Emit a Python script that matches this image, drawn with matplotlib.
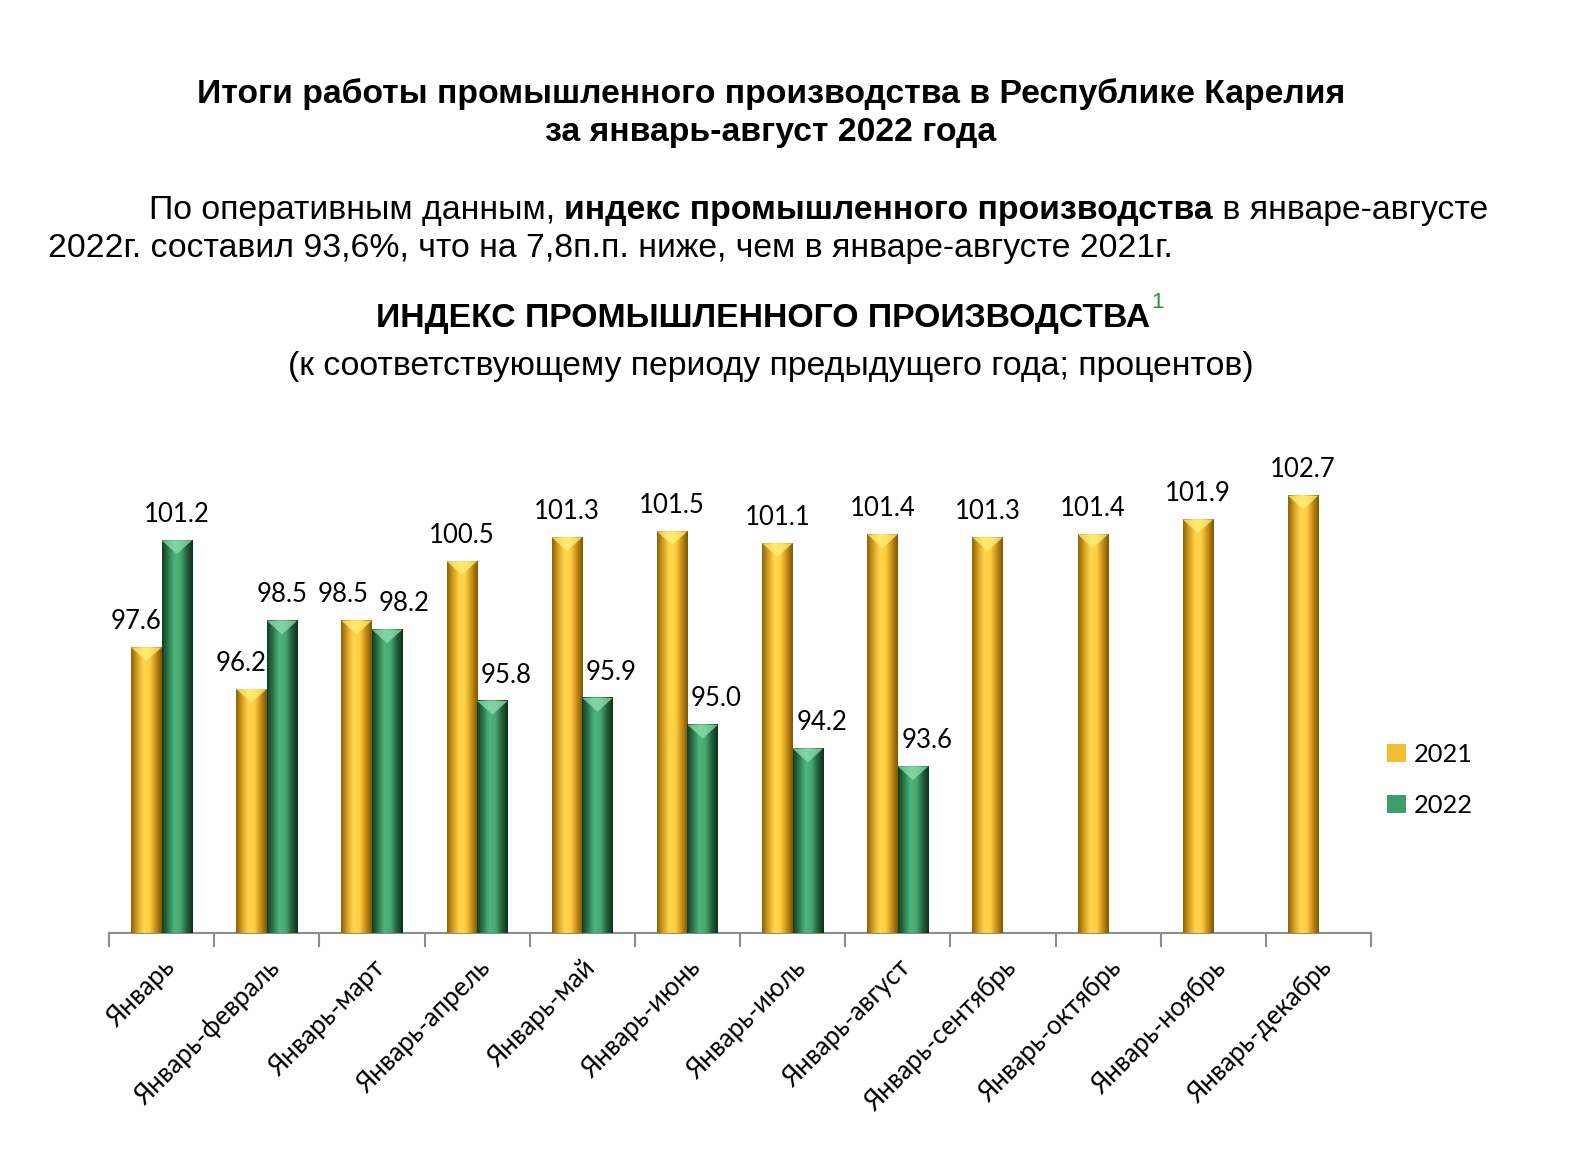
import numpy as np
import matplotlib.pyplot as plt
from matplotlib.colors import LinearSegmentedColormap
from matplotlib.patches import Polygon, Patch

periods = ['Январь', 'Январь-февраль', 'Январь-март', 'Январь-апрель', 'Январь-май',
           'Январь-июнь', 'Январь-июль', 'Январь-август', 'Январь-сентябрь',
           'Январь-октябрь', 'Январь-ноябрь', 'Январь-декабрь']
idx_2021 = [97.6, 96.2, 98.5, 100.5, 101.3, 101.5, 101.1, 101.4, 101.3, 101.4, 101.9, 102.7]
idx_2022 = [101.2, 98.5, 98.2, 95.8, 95.9, 95.0, 94.2, 93.6]
years = ['2021', '2022']

W, H = 1592, 1168
fig = plt.figure(figsize=(W / 100, H / 100), dpi=100)
fig.patch.set_facecolor('white')
rend = fig.canvas.get_renderer()

TXT = 'Liberation Sans'
LBL = 'Lato'
FS = 24.3


def fx(x):
    return x / W


def fy(y):
    return 1 - y / H


# шапка
fig.text(fx(771), fy(94), 'Итоги работы промышленного производства в Республике Карелия',
         ha='center', va='center', fontsize=FS, fontweight='bold', family=TXT)
fig.text(fx(771), fy(132), 'за январь-август 2022 года',
         ha='center', va='center', fontsize=FS, fontweight='bold', family=TXT)

# абзац со смешанным начертанием
x = 149
for part, wt in [('По оперативным данным, ', 'normal'),
                 ('индекс промышленного производства', 'bold'),
                 (' в январе-августе', 'normal')]:
    t = fig.text(fx(x), fy(210), part.replace(' ', '\u00a0'), ha='left', va='center',
                 fontsize=FS, fontweight=wt, family=TXT)
    x += t.get_window_extent(rend).width
fig.text(fx(48), fy(248), '2022г. составил 93,6%, что на 7,8п.п. ниже, чем в январе-августе 2021г.',
         ha='left', va='center', fontsize=FS, family=TXT)

# заголовок графика
t = fig.text(fx(763), fy(318), 'ИНДЕКС ПРОМЫШЛЕННОГО ПРОИЗВОДСТВА',
             ha='center', va='center', fontsize=FS, fontweight='bold', family=TXT)
bb = t.get_window_extent(rend)
fig.text(bb.x1 / W + 0.001, fy(302), '1', ha='left', va='center', fontsize=16,
         color='#2e8b3a', family=TXT)
fig.text(fx(771), fy(366), '(к соответствующему периоду предыдущего года; процентов)',
         ha='center', va='center', fontsize=FS, family=TXT)

# график
ax = fig.add_axes([109 / W, 1 - 933 / H, 1262 / W, 476 / H])
ax.set_xlim(-0.5, len(periods) - 0.5)
ax.set_ylim(88, 104)

xs = np.arange(len(periods))
w = 0.29
styles = {
    '2021': dict(base='#f2bd33', grad=['#8a6508', '#d9a021', '#ffd54d', '#ffcf40', '#c8901a', '#7a5806'],
                 top='#fff07a'),
    '2022': dict(base='#3f9e66', grad=['#143d24', '#2d7a4c', '#4fb57c', '#47a872', '#25623d', '#0f3019'],
                 top='#8fe0b0'),
}

b1 = ax.bar(xs - w / 2, np.array(idx_2021) - 88, w, bottom=88, color=styles['2021']['base'], zorder=2)
b2 = ax.bar(xs[:len(idx_2022)] + w / 2, np.array(idx_2022) - 88, w, bottom=88,
            color=styles['2022']['base'], zorder=2)

fig.canvas.draw()
ppx = ax.transData.transform((1, 0))[0] - ax.transData.transform((0, 0))[0]
ppy = ax.transData.transform((0, 1))[1] - ax.transData.transform((0, 0))[1]

for bars, yr in [(b1, '2021'), (b2, '2022')]:
    st = styles[yr]
    cmap = LinearSegmentedColormap.from_list(yr, st['grad'])
    grad = cmap(np.linspace(0, 1, 64))[None, :, :]
    for r in bars:
        x0, x1 = r.get_x(), r.get_x() + r.get_width()
        top = r.get_y() + r.get_height()
        ax.imshow(grad, extent=[x0, x1, 88, top], aspect='auto', zorder=3, interpolation='bilinear')
        d = (r.get_width() / 2) * ppx / ppy * 0.9
        ax.add_patch(Polygon([(x0, top), (x1, top), ((x0 + x1) / 2, top - d)],
                             closed=True, facecolor=st['top'], edgecolor='none', alpha=0.75, zorder=4))
ax.set_xlim(-0.5, len(periods) - 0.5)
ax.set_ylim(88, 104)

# подписи значений
for i, v in enumerate(idx_2021):
    dx = 0
    if i < len(idx_2022):
        if abs(v - idx_2022[i]) < 1:
            dx = -0.13
        elif v < idx_2022[i]:
            dx = -0.1
    ax.text(i - w / 2 + dx, v + 0.45, f'{v:.1f}', ha='center', va='bottom', fontsize=18.5, family=LBL, zorder=5)
for i, v in enumerate(idx_2022):
    dx = 0
    if abs(v - idx_2021[i]) < 1:
        dx = 0.16
    elif v < idx_2021[i]:
        dx = 0.13
    ax.text(i + w / 2 + dx, v + 0.45, f'{v:.1f}', ha='center', va='bottom', fontsize=18.5, family=LBL, zorder=5)

for s in ['top', 'right', 'left']:
    ax.spines[s].set_visible(False)
ax.spines['bottom'].set_color('#8c8c8c')
ax.spines['bottom'].set_linewidth(1.5)
ax.set_yticks([])
ax.set_xticks(xs)
ax.set_xticklabels(periods, rotation=45, ha='right', rotation_mode='anchor', fontsize=18.5, family=LBL)
ax.set_xticks(np.arange(-0.5, len(periods)), minor=True)
ax.tick_params(axis='x', which='major', length=0, pad=16)
ax.tick_params(axis='x', which='minor', length=10, width=1.5, color='#8c8c8c')

handles = [Patch(facecolor=styles[y]['base'], edgecolor='none') for y in years]
fig.legend(handles, years, loc='center left', bbox_to_anchor=(1364 / W, 1 - 780 / H),
           frameon=False, handlelength=0.75, handleheight=0.75, handletextpad=0.3,
           labelspacing=1.1, prop={'family': LBL, 'size': 18.3})

fig.savefig('out.png', dpi=100, facecolor='white')
